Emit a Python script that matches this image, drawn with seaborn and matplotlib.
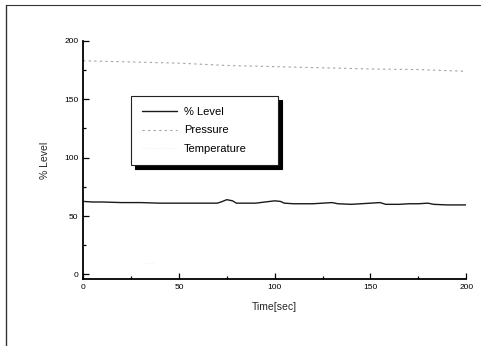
import matplotlib
matplotlib.use("Agg")
import matplotlib.pyplot as plt
import seaborn as sns
import pandas as pd
from matplotlib.lines import Line2D
from matplotlib.ticker import MultipleLocator

level_time = [0, 5, 10, 20, 30, 40, 50, 60, 70, 72, 75, 78, 80, 90, 95, 100, 103, 105, 110,
              120, 125, 130, 133, 140, 145, 150, 155, 158, 165, 170, 175, 180, 183, 190, 200]
level_vals = [62.5, 62, 62, 61.5, 61.5, 61, 61, 61, 61, 62, 64, 63, 61, 61, 62, 63, 62.5, 61, 60.5,
              60.5, 61, 61.5, 60.5, 60, 60.5, 61, 61.5, 60, 60, 60.5, 60.5, 61, 60, 59.5, 59.5]
press_time = [0, 25, 50, 75, 100, 125, 150, 175, 200]
press_vals = [183, 182, 181, 179, 178, 177, 176, 175.5, 174]
temp_time = [33, 37]
temp_vals = [10, 10]

sns.set_theme(style="ticks")
plt.rcParams['font.family'] = ['Liberation Sans', 'DejaVu Sans']

fig = plt.figure(figsize=(5.04, 3.46), dpi=100)
ax = fig.add_axes([0.165, 0.1936, 0.76, 0.688])

df_l = pd.DataFrame({"t": level_time, "v": level_vals})
df_p = pd.DataFrame({"t": press_time, "v": press_vals})
df_t = pd.DataFrame({"t": temp_time, "v": temp_vals})

sns.lineplot(data=df_l, x="t", y="v", ax=ax, color="#1a1a1a", lw=1.0, label="% Level")
sns.lineplot(data=df_p, x="t", y="v", ax=ax, color="#a0a0a0", lw=0.8,
             linestyle=(0, (2, 3)), label="Pressure")
sns.lineplot(data=df_t, x="t", y="v", ax=ax, color="#e6e6e6", lw=0.6,
             linestyle=(0, (1, 3)), label="Temperature")

ax.set_xlim(0, 200)
ax.set_ylim(-4, 200)
ax.xaxis.set_major_locator(MultipleLocator(50))
ax.xaxis.set_minor_locator(MultipleLocator(25))
ax.yaxis.set_major_locator(MultipleLocator(50))
ax.yaxis.set_minor_locator(MultipleLocator(25))
ax.tick_params(which="both", direction="in", labelsize=6, width=0.9, colors="#000000")
ax.tick_params(which="major", length=4)
ax.tick_params(which="minor", length=2)
for s in ["top", "right"]:
    ax.spines[s].set_visible(False)
for s in ["left", "bottom"]:
    ax.spines[s].set_linewidth(1.3)
    ax.spines[s].set_color("#000000")

ax.set_xlabel("Time[sec]", fontsize=7.5, labelpad=8)
ax.set_ylabel("% Level", fontsize=7.5, labelpad=10)

leg = ax.legend(loc="upper left", bbox_to_anchor=(0.125, 0.769, 0.384, 0.0),
                mode="expand", borderaxespad=0,
                fontsize=8, frameon=True, fancybox=False,
                shadow={"color": "black", "alpha": 1.0, "ox": 3, "oy": -3},
                borderpad=0.95, handlelength=3.2, handletextpad=0.6,
                labelspacing=0.8)
leg.get_frame().set_edgecolor("#222222")
leg.get_frame().set_linewidth(0.8)
for t in leg.get_texts():
    t.set_color("#000000")

fig.add_artist(Line2D([6/504, 6/504], [0, 1 - 5/346], color="#333333", lw=1.0,
                      transform=fig.transFigure))
fig.add_artist(Line2D([6/504, 480/504], [1 - 5/346, 1 - 5/346], color="#333333", lw=0.8,
                      transform=fig.transFigure))

fig.savefig("out.png", dpi=100)
